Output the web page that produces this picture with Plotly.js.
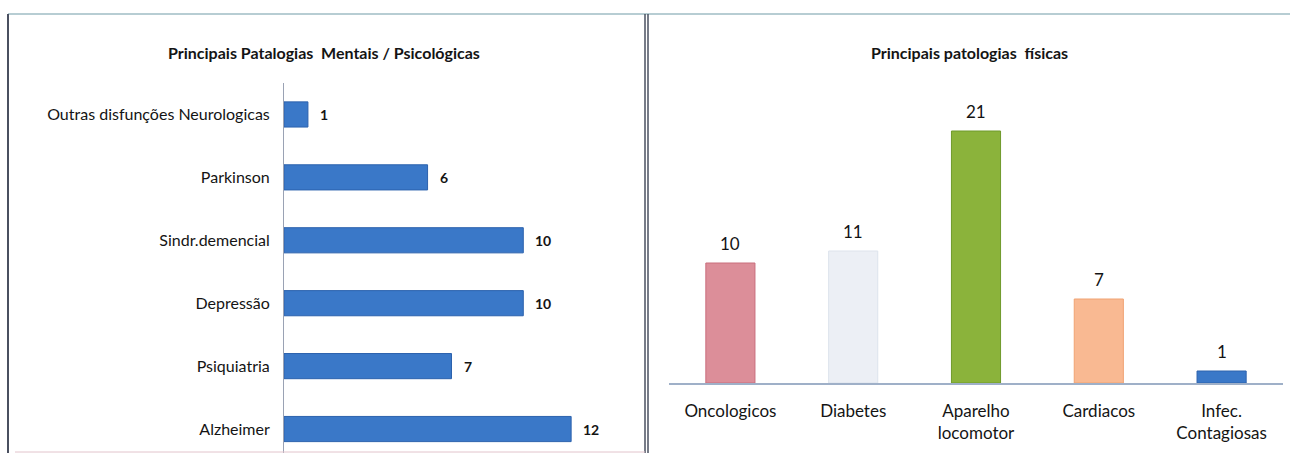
<!DOCTYPE html>
<html>
<head>
<meta charset="utf-8">
<script src="https://cdn.plot.ly/plotly-3.0.1.min.js"></script>
<style>
  html, body { margin: 0; padding: 0; background: #ffffff; }
  #chart { width: 1290px; height: 453px; }
</style>
</head>
<body>
<div id="chart"></div>
<script>
// Mental / psychological pathologies (top to bottom)
const mentalLabels = ['Outras disfunções Neurologicas', 'Parkinson', 'Sindr.demencial', 'Depressão', 'Psiquiatria', 'Alzheimer'];
const mentalValues = [1, 6, 10, 10, 7, 12];

// Physical pathologies (left to right)
const physicalLabels = ['Oncologicos', 'Diabetes', 'Aparelho<br>locomotor', 'Cardiacos', 'Infec.<br>Contagiosas'];
const physicalValues = [10, 11, 21, 7, 1];
const physicalColors = ['#dc8e99', '#eceff5', '#8bb33b', '#f9b992', '#3a78c8'];
const physicalLines  = ['#c96e7d', '#dde3ec', '#6f9a2a', '#f0a373', '#2c62ad'];

const W = 1290, H = 453;
const px = x => x / W;
const py = y => (H - y) / H;
const FONT = 'Lato, "Open Sans", sans-serif';
const INK = '#141414';

const traces = [
  {
    type: 'bar', orientation: 'h',
    x: mentalValues, y: mentalLabels,
    xaxis: 'x', yaxis: 'y',
    width: 0.4,
    marker: { color: '#3a78c8', line: { color: '#2c62ad', width: 1 } },
    hoverinfo: 'x+y'
  },
  {
    type: 'bar',
    x: physicalLabels, y: physicalValues,
    xaxis: 'x2', yaxis: 'y2',
    width: 0.4,
    marker: { color: physicalColors, line: { color: physicalLines, width: 1 } },
    hoverinfo: 'x+y'
  }
];

const annotations = [];
mentalValues.forEach((v, i) => {
  annotations.push({
    xref: 'x', yref: 'y', x: v, y: mentalLabels[i],
    text: String(v), showarrow: false,
    xanchor: 'left', yanchor: 'middle', xshift: 10,
    font: { family: FONT, size: 14, color: INK, weight: 700 }
  });
});
physicalValues.forEach((v, i) => {
  annotations.push({
    xref: 'x2', yref: 'y2', x: physicalLabels[i], y: v,
    text: String(v), showarrow: false,
    xanchor: 'center', yanchor: 'bottom', yshift: 7,
    font: { family: FONT, size: 17, color: INK }
  });
});

// Panel titles
annotations.push({
  xref: 'paper', yref: 'paper', x: px(324), y: py(52),
  text: 'Principais Patalogias  Mentais / Psicológicas', showarrow: false,
  xanchor: 'center', yanchor: 'middle',
  font: { family: FONT, size: 16, color: INK, weight: 700 }
});
annotations.push({
  xref: 'paper', yref: 'paper', x: px(969), y: py(52),
  text: 'Principais patologias  físicas', showarrow: false,
  xanchor: 'center', yanchor: 'middle',
  font: { family: FONT, size: 16, color: INK, weight: 700 }
});

// Panel frames
const shapes = [
  { type: 'line', xref: 'paper', yref: 'paper', x0: px(8), x1: px(1290), y0: py(14), y1: py(14), line: { color: '#9fbcc4', width: 1.5 } },
  { type: 'line', xref: 'paper', yref: 'paper', x0: px(8), x1: px(8), y0: py(14), y1: py(453), line: { color: '#4a5060', width: 2 } },
  { type: 'line', xref: 'paper', yref: 'paper', x0: px(645), x1: px(645), y0: py(14), y1: py(453), line: { color: '#4a5060', width: 1.5 } },
  { type: 'line', xref: 'paper', yref: 'paper', x0: px(648), x1: px(648), y0: py(14), y1: py(453), line: { color: '#4a5060', width: 1.5 } },
  { type: 'line', xref: 'paper', yref: 'paper', x0: px(15), x1: px(645), y0: py(452), y1: py(452), line: { color: '#e2c4cc', width: 1 } }
];

const layout = {
  width: W, height: H,
  margin: { l: 0, r: 0, t: 0, b: 0 },
  paper_bgcolor: '#ffffff', plot_bgcolor: 'rgba(0,0,0,0)',
  showlegend: false,
  font: { family: FONT, color: INK },
  xaxis: {
    domain: [px(284), px(619)], range: [0, 14],
    showgrid: false, zeroline: false, showline: false, showticklabels: false, ticks: ''
  },
  yaxis: {
    domain: [0, py(83)], type: 'category',
    range: [5.381, -0.5],
    showgrid: false, zeroline: false,
    showline: true, linecolor: '#9aa2b4', linewidth: 1,
    ticks: '', ticklabelstandoff: 10,
    tickfont: { family: FONT, size: 16, color: INK },
    anchor: 'x'
  },
  xaxis2: {
    domain: [px(669), px(1283)], range: [-0.5, 4.5], type: 'category',
    showgrid: false, zeroline: false,
    showline: true, linecolor: '#9fb0c8', linewidth: 1.5,
    ticks: '', ticklabelstandoff: 12,
    tickfont: { family: FONT, size: 17, color: INK },
    anchor: 'y2'
  },
  yaxis2: {
    domain: [py(383), py(83)], range: [0, 25],
    showgrid: false, zeroline: false, showline: false, showticklabels: false, ticks: '',
    anchor: 'x2'
  },
  annotations: annotations,
  shapes: shapes
};

Plotly.newPlot('chart', traces, layout, { displayModeBar: false, staticPlot: true });
</script>
</body>
</html>
